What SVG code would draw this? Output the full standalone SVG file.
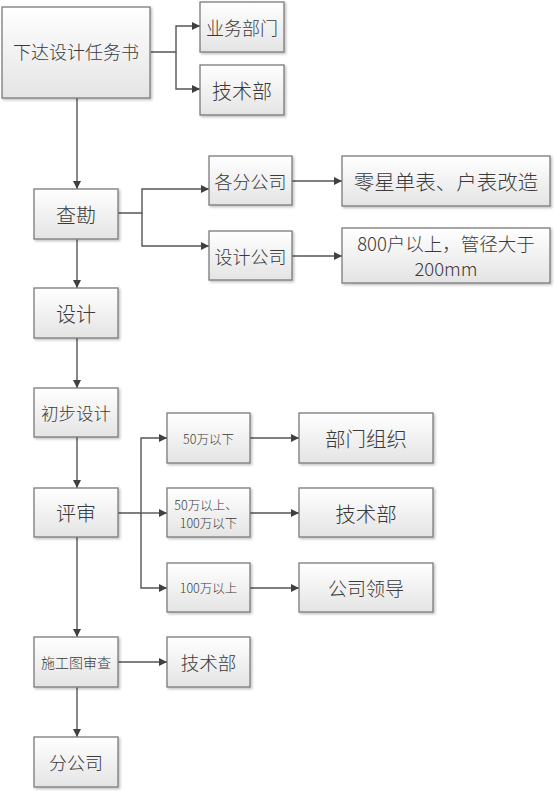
<svg xmlns="http://www.w3.org/2000/svg" width="554" height="791" viewBox="0 0 554 791">
<defs>
<linearGradient id="g" x1="0" y1="0" x2="0" y2="1">
<stop offset="0" stop-color="#ffffff"/>
<stop offset="1" stop-color="#e4e4e4"/>
</linearGradient>
<filter id="sh" x="-10%" y="-10%" width="130%" height="130%">
<feDropShadow dx="1.5" dy="1.5" stdDeviation="1" flood-color="#000" flood-opacity="0.25"/>
</filter>
<marker id="ar" viewBox="0 0 10 10" refX="10" refY="5" markerWidth="8" markerHeight="8" markerUnits="userSpaceOnUse" orient="auto">
<path d="M0,0 L10,5 L0,10 z" fill="#404040"/>
</marker>
</defs>
<style>
rect{fill:url(#g);stroke:#7a7a7a;stroke-width:1.3;filter:url(#sh)}
text{font-family:"Noto Sans CJK SC","Liberation Sans",sans-serif;font-weight:300;fill:#3a3a3a;text-anchor:middle;dominant-baseline:central}
#connectors path{fill:none;stroke:#555;stroke-width:1.4}
.a{marker-end:url(#ar)}
</style>
<rect x="0" y="0" width="554" height="791" style="fill:#fff;stroke:none;filter:none"/>
<g id="connectors">
<path d="M151,52 H176 V26 H200" class="a"/>
<path d="M176,52 V89 H200" class="a"/>
<path d="M77,98 V189" class="a"/>
<path d="M118,213 H142 V189 H209" class="a"/>
<path d="M142,213 V246 H209" class="a"/>
<path d="M292,181 H342" class="a"/>
<path d="M292,256 H342" class="a"/>
<path d="M77,239 V288" class="a"/>
<path d="M77,338 V388" class="a"/>
<path d="M77,437 V488" class="a"/>
<path d="M118,513 H141 V438 H167" class="a"/>
<path d="M141,513 H167" class="a"/>
<path d="M141,513 V588 H167" class="a"/>
<path d="M250,438 H299" class="a"/>
<path d="M250,513 H299" class="a"/>
<path d="M250,588 H299" class="a"/>
<path d="M77,537 V637" class="a"/>
<path d="M118,662 H167" class="a"/>
<path d="M77,687 V737" class="a"/>
</g>
<g id="n_task"><rect x="2" y="7" width="148" height="91"/><text x="76" y="51" font-size="18">下达设计任务书</text></g>
<g id="n_biz"><rect x="200" y="2" width="84" height="50"/><text x="242" y="27" font-size="18">业务部门</text></g>
<g id="n_tech1"><rect x="200" y="65" width="84" height="50"/><text x="242" y="90" font-size="20">技术部</text></g>
<g id="n_survey"><rect x="34" y="189" width="84" height="50"/><text x="76" y="214" font-size="20">查勘</text></g>
<g id="n_branch"><rect x="209" y="156" width="83" height="49"/><text x="250.5" y="180.5" font-size="18">各分公司</text></g>
<g id="n_designco"><rect x="209" y="231" width="83" height="49"/><text x="250.5" y="255.5" font-size="18">设计公司</text></g>
<g id="n_meter"><rect x="342" y="156" width="208" height="50"/><text x="446" y="181" font-size="20.5">零星单表、户表改造</text></g>
<g id="n_800"><rect x="342" y="228" width="208" height="55"/><text x="446" y="243" font-size="18.5">800户以上，管径大于</text><text x="446" y="268" font-size="18.5">200mm</text></g>
<g id="n_design"><rect x="34" y="288" width="84" height="50"/><text x="76" y="313" font-size="20">设计</text></g>
<g id="n_prelim"><rect x="34" y="388" width="84" height="49"/><text x="76" y="412.5" font-size="17.5">初步设计</text></g>
<g id="n_review"><rect x="34" y="488" width="84" height="49"/><text x="76" y="512.5" font-size="20">评审</text></g>
<g id="n_lt50"><rect x="167" y="413" width="83" height="50"/><text x="208.5" y="438" font-size="12.5">50万以下</text></g>
<g id="n_50_100"><rect x="167" y="488" width="83" height="49"/><text x="206" y="504" font-size="12.5">50万以上、</text><text x="208.5" y="522" font-size="12.5">100万以下</text></g>
<g id="n_gt100"><rect x="167" y="563" width="83" height="49"/><text x="208.5" y="587.5" font-size="12.5">100万以上</text></g>
<g id="n_dept"><rect x="299" y="413" width="134" height="50"/><text x="366" y="438" font-size="20.5">部门组织</text></g>
<g id="n_tech2"><rect x="299" y="488" width="134" height="49"/><text x="366" y="512.5" font-size="20.5">技术部</text></g>
<g id="n_leader"><rect x="299" y="563" width="134" height="49"/><text x="366" y="587.5" font-size="19">公司领导</text></g>
<g id="n_drawing"><rect x="34" y="637" width="84" height="50"/><text x="76" y="662" font-size="14">施工图审查</text></g>
<g id="n_tech3"><rect x="167" y="637" width="83" height="50"/><text x="208.5" y="662" font-size="18.5">技术部</text></g>
<g id="n_sub"><rect x="34" y="737" width="84" height="50"/><text x="76" y="762" font-size="18">分公司</text></g>
</svg>
